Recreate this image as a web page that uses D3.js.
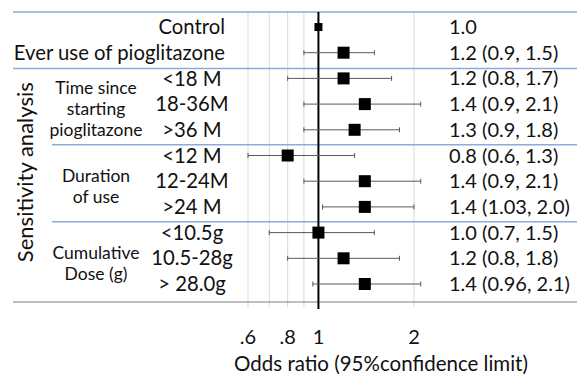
<!DOCTYPE html>
<html>
<head>
<meta charset="utf-8">
<script src="https://cdn.jsdelivr.net/npm/d3@7"></script>
<style>
  body { margin: 0; background: #fff; }
  svg { font-family: Lato, "Open Sans", sans-serif; }
</style>
</head>
<body>
<svg id="chart"></svg>
<script>
// Rows of the forest plot
const labels = ["Control", "Ever use of pioglitazone", "<18 M", "18-36M", ">36 M",
  "<12 M", "12-24M", ">24 M", "<10.5g", "10.5-28g", "> 28.0g"];
const oddsRatio = [1.0, 1.2, 1.2, 1.4, 1.3, 0.8, 1.4, 1.4, 1.0, 1.2, 1.4];
const lower = [null, 0.9, 0.8, 0.9, 0.9, 0.6, 0.9, 1.03, 0.7, 0.8, 0.96];
const upper = [null, 1.5, 1.7, 2.1, 1.8, 1.3, 2.1, 2.0, 1.5, 1.8, 2.1];
const ciText = ["1.0", "1.2 (0.9, 1.5)", "1.2 (0.8, 1.7)", "1.4 (0.9, 2.1)", "1.3 (0.9, 1.8)",
  "0.8 (0.6, 1.3)", "1.4 (0.9, 2.1)", "1.4 (1.03, 2.0)", "1.0 (0.7, 1.5)", "1.2 (0.8, 1.8)",
  "1.4 (0.96, 2.1)"];

// Sub-groups of the sensitivity analysis
const groupNames = [["Time since", "starting", "pioglitazone"], ["Duration", "of use"], ["Cumulative", "Dose (g)"]];
const groupRows = [[2, 4], [5, 7], [8, 10]];

const gridTicks = [0.6, 0.7, 0.8, 0.9, 2];
const labelTicks = [0.6, 0.8, 1, 2];

const width = 577;
const height = 376;

const svg = d3.select("#chart")
  .attr("width", width)
  .attr("height", height);

// log scale for odds ratio
const x = d3.scaleLog().domain([0.6, 2]).range([248, 414]);
const y = d3.scalePoint().domain(d3.range(labels.length)).range([27, 284]);

const plotTop = 12, plotBottom = 302;
const sepLeft = 13, subLeft = 52;
const ink = "#111";

// Vertical gridlines
svg.append("g")
  .selectAll("line")
  .data(gridTicks)
  .join("line")
  .attr("x1", d => x(d)).attr("x2", d => x(d))
  .attr("y1", plotTop).attr("y2", plotBottom + 5)
  .attr("stroke", "#d9d9d9")
  .attr("stroke-width", 1);

// Horizontal separators (blue)
const seps = [
  { y: plotTop, x0: sepLeft },
  { y: (y(1) + y(2)) / 2 + 3, x0: sepLeft },
  { y: (y(4) + y(5)) / 2 + 2, x0: subLeft },
  { y: (y(7) + y(8)) / 2 + 2, x0: subLeft }
];
svg.append("g")
  .selectAll("line")
  .data(seps)
  .join("line")
  .attr("x1", d => d.x0).attr("x2", width)
  .attr("y1", d => d.y).attr("y2", d => d.y)
  .attr("stroke", "#8eaadb")
  .attr("stroke-width", 1.5);

// bottom rule
svg.append("line")
  .attr("x1", sepLeft).attr("x2", width)
  .attr("y1", plotBottom).attr("y2", plotBottom)
  .attr("stroke", "#7f7f7f")
  .attr("stroke-width", 1.2);

// Reference line at OR = 1
svg.append("line")
  .attr("x1", x(1)).attr("x2", x(1))
  .attr("y1", plotTop).attr("y2", plotBottom + 7)
  .attr("stroke", "#000")
  .attr("stroke-width", 2);

// Confidence intervals
const rows = d3.range(labels.length).filter(i => lower[i] != null);
const ci = svg.append("g").attr("stroke", "#595959").attr("stroke-width", 1);
ci.selectAll(".ci")
  .data(rows)
  .join("line")
  .attr("x1", i => x(lower[i])).attr("x2", i => x(upper[i]))
  .attr("y1", i => y(i)).attr("y2", i => y(i));
ci.selectAll(".capL")
  .data(rows)
  .join("line")
  .attr("x1", i => x(lower[i])).attr("x2", i => x(lower[i]))
  .attr("y1", i => y(i) - 2.5).attr("y2", i => y(i) + 2.5);
ci.selectAll(".capR")
  .data(rows)
  .join("line")
  .attr("x1", i => x(upper[i])).attr("x2", i => x(upper[i]))
  .attr("y1", i => y(i) - 2.5).attr("y2", i => y(i) + 2.5);

// Point estimates
svg.append("g")
  .selectAll("rect")
  .data(d3.range(labels.length))
  .join("rect")
  .attr("x", i => x(oddsRatio[i]) - (i === 0 ? 4 : 6))
  .attr("y", i => y(i) - (i === 0 ? 4 : 6))
  .attr("width", i => i === 0 ? 8 : 12)
  .attr("height", i => i === 0 ? 8 : 12)
  .attr("fill", "#000");

// Row labels
svg.append("g")
  .selectAll("text")
  .data(d3.range(labels.length))
  .join("text")
  .attr("x", i => i < 2 ? 225 : 192)
  .attr("y", i => y(i))
  .attr("dy", "0.35em")
  .attr("text-anchor", i => i < 2 ? "end" : "middle")
  .attr("font-size", 20.3)
  .attr("fill", ink)
  .text(i => labels[i]);

// Estimate text column
svg.append("g")
  .selectAll("text")
  .data(ciText)
  .join("text")
  .attr("x", 449)
  .attr("y", (d, i) => y(i))
  .attr("dy", "0.35em")
  .attr("font-size", 20)
  .attr("fill", ink)
  .text(d => d);

// Group labels
groupNames.forEach((lines, g) => {
  const mid = (y(groupRows[g][0]) + y(groupRows[g][1])) / 2 + 5;
  const lh = 21;
  svg.append("text")
    .attr("x", 96)
    .attr("y", mid - (lines.length - 1) * lh / 2)
    .attr("text-anchor", "middle")
    .attr("font-size", 17.5)
    .attr("fill", ink)
    .selectAll("tspan")
    .data(lines)
    .join("tspan")
    .attr("x", 96)
    .attr("dy", (d, k) => k === 0 ? "0.35em" : lh)
    .text(d => d);
});

// Vertical side title
svg.append("text")
  .attr("transform", `translate(33, ${(y(2) + y(10)) / 2 - 9}) rotate(-90)`)
  .attr("text-anchor", "middle")
  .attr("font-size", 22)
  .attr("fill", ink)
  .text("Sensitivity analysis");

// Tick labels
svg.append("g")
  .selectAll("text")
  .data(labelTicks)
  .join("text")
  .attr("x", d => x(d))
  .attr("y", 337)
  .attr("dy", "0.35em")
  .attr("text-anchor", "middle")
  .attr("font-size", 20)
  .attr("fill", ink)
  .text(d => d === 1 || d === 2 ? String(d) : d3.format(".1f")(d).replace(/^0/, ""));

// Axis title
svg.append("text")
  .attr("x", 381)
  .attr("y", 371)
  .attr("text-anchor", "middle")
  .attr("font-size", 20.5)
  .attr("fill", ink)
  .text("Odds ratio (95%confidence limit)");
</script>
</body>
</html>
